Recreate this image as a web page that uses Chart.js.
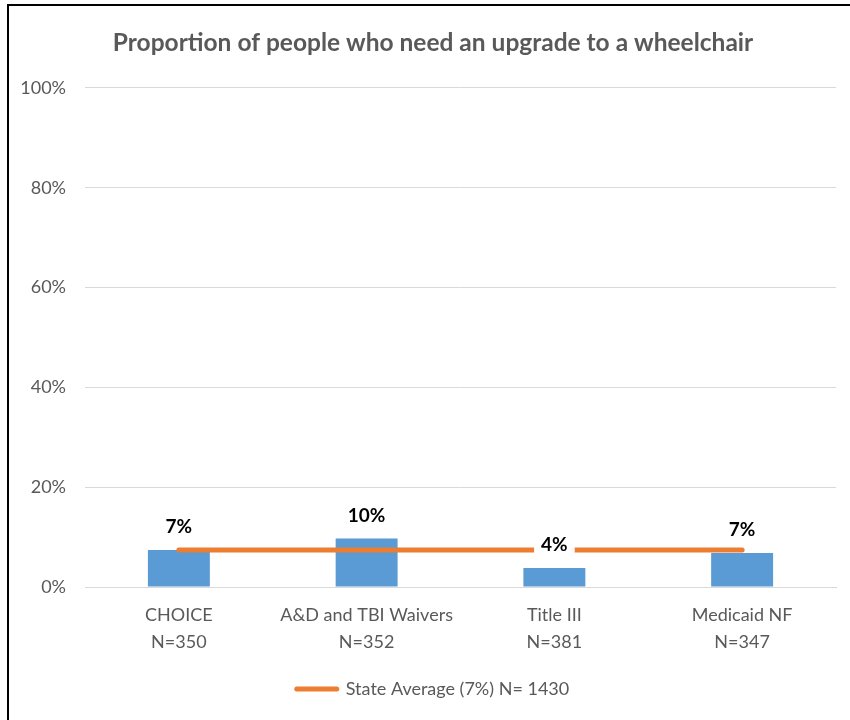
<!DOCTYPE html>
<html>
<head>
<meta charset="utf-8">
<script src="https://cdn.jsdelivr.net/npm/chart.js@4.4.0/dist/chart.umd.min.js"></script>
<style>
	html, body { margin: 0; padding: 0; background: #fff; overflow: hidden; }
	#wrap { position: relative; width: 850px; height: 720px; overflow: hidden; }
	#frame { position: absolute; left: 7px; top: 4px; width: 900px; height: 760px;
		border-top: 2px solid #000; border-left: 2px solid #000; pointer-events: none; }
	canvas { position: absolute; left: 0; top: 0; }
</style>
</head>
<body>
<div id="wrap">
	<canvas id="wheelchairChart" width="866" height="720"></canvas>
	<div id="frame"></div>
</div>
<script>
const categories = ['CHOICE', 'A&D and TBI Waivers', 'Title III', 'Medicaid NF'];
const sampleSizes = ['N=350', 'N=352', 'N=381', 'N=347'];
const needUpgrade = [7.4, 9.7, 3.8, 6.8];
const stateAverage = [7.4, 7.4, 7.4, 7.4];
const stateLabel = 'State Average (7%) N= 1430';
const yTicks = [0, 20, 40, 60, 80, 100];

const grey = '#595959';
const font = 'Lato';

// bold percentages above each bar, on a white box so the line is cut behind them
const barLabels = {
	id: 'barLabels',
	afterDatasetsDraw(chart) {
		const ctx = chart.ctx;
		const meta = chart.getDatasetMeta(0);
		ctx.save();
		ctx.font = 'bold 19px ' + font;
		ctx.textAlign = 'center';
		ctx.textBaseline = 'middle';
		meta.data.forEach((bar, i) => {
			const text = Math.round(needUpgrade[i]) + '%';
			const y = bar.y - 23;
			const w = ctx.measureText(text).width + 14;
			ctx.fillStyle = '#fff';
			ctx.fillRect(bar.x - w / 2, y - 12, w, 24);
			ctx.fillStyle = '#000';
			ctx.fillText(text, bar.x, y);
		});
		ctx.restore();
	}
};

const ctx = document.getElementById('wheelchairChart').getContext('2d');

new Chart(ctx, {
	data: {
		labels: categories.map((c, i) => [c, sampleSizes[i]]),
		datasets: [{
			type: 'bar',
			label: 'Proportion',
			data: needUpgrade,
			backgroundColor: '#5b9bd5',
			barPercentage: 0.33,
			categoryPercentage: 1,
			order: 1
		}, {
			type: 'line',
			label: stateLabel,
			data: stateAverage,
			borderColor: '#ed7d31',
			borderWidth: 5,
			borderCapStyle: 'round',
			pointRadius: 0,
			order: 0
		}]
	},
	options: {
		responsive: false,
		animation: false,
		layout: {
			padding: { left: 0, right: 0, top: 0, bottom: 12 }
		},
		scales: {
			x: {
				grid: { display: false },
				border: { color: '#d9d9d9', width: 1 },
				ticks: {
					color: grey,
					font: { family: font, size: 18, lineHeight: 1.5 },
					padding: 7,
					maxRotation: 0
				},
				afterFit(scale) { scale.height = 83; }
			},
			y: {
				min: 0,
				max: 100,
				afterBuildTicks(scale) { scale.ticks = yTicks.map(v => ({ value: v })); },
				grid: { color: '#d9d9d9', drawTicks: false },
				border: { display: false },
				ticks: {
					color: grey,
					font: { family: font, size: 18 },
					padding: 19,
					callback: v => v + '%'
				},
				afterFit(scale) { scale.width = 85; }
			},
			// empty strip on the right so the plot stops short of the frame
			yRight: {
				position: 'right',
				grid: { display: false },
				border: { display: false },
				ticks: { display: false },
				afterFit(scale) { scale.width = 30; }
			}
		},
		plugins: {
			title: {
				display: true,
				text: 'Proportion of people who need an upgrade to a wheelchair',
				color: grey,
				font: { family: font, size: 24.5, weight: 'bold' },
				padding: { top: 28.5, bottom: 30 }
			},
			legend: {
				position: 'bottom',
				labels: {
					usePointStyle: true,
					pointStyleWidth: 40,
					color: grey,
					font: { family: font, size: 18 },
					generateLabels: () => [{
						text: stateLabel,
						fillStyle: '#ed7d31',
						strokeStyle: '#ed7d31',
						lineWidth: 5,
						lineCap: 'round',
						pointStyle: 'line',
						fontColor: grey,
						hidden: false,
						datasetIndex: 1
					}]
				}
			},
			tooltip: { enabled: false }
		}
	},
	plugins: [barLabels]
});
</script>
</body>
</html>
